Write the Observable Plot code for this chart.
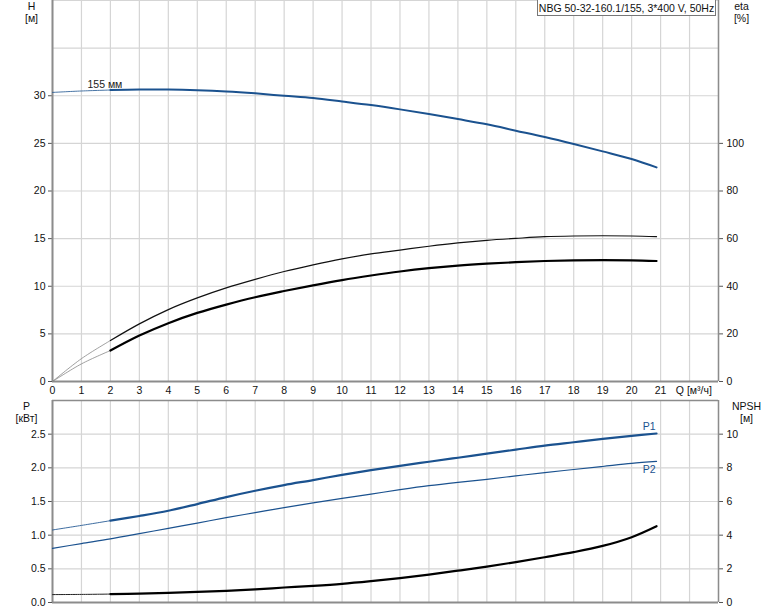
<!DOCTYPE html>
<html><head><meta charset="utf-8">
<script src="https://cdn.jsdelivr.net/npm/d3@7"></script>
<script src="https://cdn.jsdelivr.net/npm/@observablehq/plot@0.6"></script>
<style>
body{margin:0;background:#fff;font-family:"Liberation Sans",Arial,sans-serif;}
#wrap{position:relative;width:774px;height:611px;overflow:hidden;}
#wrap svg{display:block;}
#title{position:absolute;left:537px;top:-1px;width:179px;height:17px;border:1px solid #777;background:#fff;font-size:10.5px;line-height:16px;text-align:center;box-sizing:border-box;color:#111;white-space:nowrap;}
</style></head><body><div id="wrap"><div id="title"></div></div>
<script>
const titleText = "NBG 50-32-160.1/155, 3*400 V, 50Hz";
const curveLabel = "155 мм";
const Q = [0,1,2,3,4,5,6,7,8,9,10,11,12,13,14,15,16,17,18,19,20,20.86];
const H = [30.35,30.5,30.6,30.65,30.65,30.58,30.45,30.25,30.0,29.76,29.4,29.02,28.57,28.08,27.55,27.0,26.33,25.66,24.93,24.16,23.36,22.48];
const etaPump = [0,9.6,17.2,24.2,30.2,35.1,39.3,42.9,46.2,49.0,51.5,53.6,55.2,56.8,58.2,59.3,60.1,60.8,61.1,61.2,61.1,60.8];
const etaTotal = [0,7.4,13.0,19.3,24.5,28.8,32.3,35.4,38.0,40.4,42.6,44.5,46.2,47.6,48.7,49.5,50.1,50.6,50.9,51.0,50.9,50.6];
const P1 = [1.077,1.145,1.215,1.285,1.363,1.462,1.566,1.66,1.744,1.818,1.896,1.966,2.03,2.09,2.15,2.21,2.27,2.33,2.38,2.43,2.475,2.51];
const P2 = [0.805,0.875,0.944,1.022,1.102,1.18,1.26,1.335,1.41,1.48,1.547,1.61,1.675,1.735,1.785,1.83,1.88,1.93,1.975,2.02,2.065,2.095];
const NPSH = [0.47,0.48,0.50,0.53,0.575,0.63,0.69,0.78,0.89,0.99,1.11,1.27,1.45,1.66,1.89,2.13,2.40,2.69,2.99,3.36,3.88,4.53];
const qTicks = [0,1,2,3,4,5,6,7,8,9,10,11,12,13,14,15,16,17,18,19,20,21];
const hTicks = [0,5,10,15,20,25,30];
const etaTicks = [0,20,40,60,80,100];
const pTicks = [0,0.5,1,1.5,2,2.5];
const npshTicks = [0,2,4,6,8,10];

document.getElementById("title").textContent = titleText;

const rows = Q.map((q,i)=>({q, H:H[i], etaP:etaPump[i], etaT:etaTotal[i], p1:P1[i], p2:P2[i], npsh:NPSH[i]}));
const thin = rows.filter(d=>d.q<=2), thick = rows.filter(d=>d.q>=2);
const last = rows[rows.length-1];
const blue = "#1b528f";
const gridC = "#d5d5d5";
const axC = "#8c8c8c";
const font = {fontFamily:"'Liberation Sans', Arial, sans-serif", fontSize:"10.5px", color:"#111", background:"white", overflow:"visible"};
const common = {width:774, marginLeft:52, marginRight:56, x:{domain:[0,23]}, style:font};
const allQ = d3.range(0,24);
const curve = "catmull-rom";

const topPlot = Plot.plot({
  ...common, height:399, marginTop:0, marginBottom:18,
  y:{domain:[0,40]},
  marks:[
    Plot.gridX(allQ, {stroke:gridC, strokeOpacity:1, strokeWidth:1.2}),
    Plot.gridY(d3.range(0,41,5), {stroke:gridC, strokeOpacity:1, strokeWidth:1.2}),
    Plot.axisX(qTicks, {tickSize:0, tickPadding:5, label:null, fill:"#111"}),
    Plot.axisY(hTicks, {anchor:"left", tickSize:4, tickPadding:3, label:null, stroke:"#555", fill:"#111"}),
    Plot.axisY(etaTicks.map(d=>d/4), {anchor:"right", tickSize:4, tickPadding:4, label:null, tickFormat:d=>d*4, stroke:"#555", fill:"#111"}),
    Plot.ruleX([0], {stroke:axC, strokeWidth:2}),
    Plot.ruleY([0], {stroke:axC, strokeWidth:2}),
    Plot.ruleX([23], {stroke:axC, strokeWidth:1.5}),
    Plot.line(thin, {x:"q", y:d=>d.etaP/4, stroke:"#888", strokeWidth:0.8, curve}),
    Plot.line(thin, {x:"q", y:d=>d.etaT/4, stroke:"#888", strokeWidth:0.8, curve}),
    Plot.line(thick, {x:"q", y:d=>d.etaP/4, stroke:"#111", strokeWidth:1.2, curve}),
    Plot.line(thick, {x:"q", y:d=>d.etaT/4, stroke:"#000", strokeWidth:2.2, curve}),
    Plot.line(thin, {x:"q", y:"H", stroke:blue, strokeWidth:1, strokeOpacity:0.8, curve}),
    Plot.line(thick, {x:"q", y:"H", stroke:blue, strokeWidth:2, curve}),
    Plot.text([rows[1]], {x:"q", y:"H", text:()=>curveLabel, textAnchor:"start", lineAnchor:"bottom", dx:6, dy:-3, fill:"#222"}),
    Plot.text([0], {frameAnchor:"bottom-right", x:22.15, text:()=>"Q [м³/ч]", textAnchor:"middle", lineAnchor:"top", dy:5, fill:"#111"}),
    Plot.text([0], {frameAnchor:"top-left", dx:-21, dy:1, text:()=>"H\n[м]", textAnchor:"middle", lineAnchor:"top", lineHeight:1.15, fill:"#111"}),
    Plot.text([0], {frameAnchor:"top-right", dx:23, dy:1, text:()=>"eta\n[%]", textAnchor:"middle", lineAnchor:"top", lineHeight:1.15, fill:"#111"})
  ]
});

const botPlot = Plot.plot({
  ...common, height:212, marginTop:1, marginBottom:9,
  y:{domain:[0,3]},
  marks:[
    Plot.gridX(allQ, {stroke:gridC, strokeOpacity:1, strokeWidth:1.2}),
    Plot.gridY(d3.range(0,3.01,0.5), {stroke:gridC, strokeOpacity:1, strokeWidth:1.2}),
    Plot.axisX({ticks:[], tickSize:0, label:null}),
    Plot.axisY(pTicks, {anchor:"left", tickSize:4, tickPadding:3, label:null, tickFormat:d3.format(".1f"), stroke:"#555", fill:"#111"}),
    Plot.axisY(npshTicks.map(d=>d/4), {anchor:"right", tickSize:4, tickPadding:4, label:null, tickFormat:d=>Math.round(d*4), stroke:"#555", fill:"#111"}),
    Plot.ruleY([3], {stroke:axC, strokeWidth:1.5}),
    Plot.ruleX([0], {stroke:axC, strokeWidth:2}),
    Plot.ruleY([0], {stroke:axC, strokeWidth:2}),
    Plot.ruleX([23], {stroke:axC, strokeWidth:1.5}),
    Plot.line(rows, {x:"q", y:"p2", stroke:blue, strokeWidth:1.2, curve}),
    Plot.line(thin, {x:"q", y:"p1", stroke:blue, strokeWidth:1, strokeOpacity:0.85, curve}),
    Plot.line(thick, {x:"q", y:"p1", stroke:blue, strokeWidth:2.2, curve}),
    Plot.line(thin, {x:"q", y:d=>d.npsh/4, stroke:"#222", strokeWidth:1, curve}),
    Plot.line(thick, {x:"q", y:d=>d.npsh/4, stroke:"#000", strokeWidth:2.2, curve}),
    Plot.text([last], {x:"q", y:"p1", text:()=>"P1", textAnchor:"end", lineAnchor:"bottom", dx:-1, dy:-3, fill:blue}),
    Plot.text([last], {x:"q", y:"p2", text:()=>"P2", textAnchor:"end", lineAnchor:"top", dx:-1, dy:4, fill:blue}),
    Plot.text([0], {frameAnchor:"top-left", dx:-26, dy:1, text:()=>"P\n[кВт]", textAnchor:"middle", lineAnchor:"top", lineHeight:1.15, fill:"#111"}),
    Plot.text([0], {frameAnchor:"top-right", dx:28, dy:1, text:()=>"NPSH\n[м]", textAnchor:"middle", lineAnchor:"top", lineHeight:1.15, fill:"#111"})
  ]
});

const wrap = document.getElementById("wrap");
wrap.insertBefore(botPlot, wrap.firstChild);
wrap.insertBefore(topPlot, botPlot);
</script>
</body></html>
